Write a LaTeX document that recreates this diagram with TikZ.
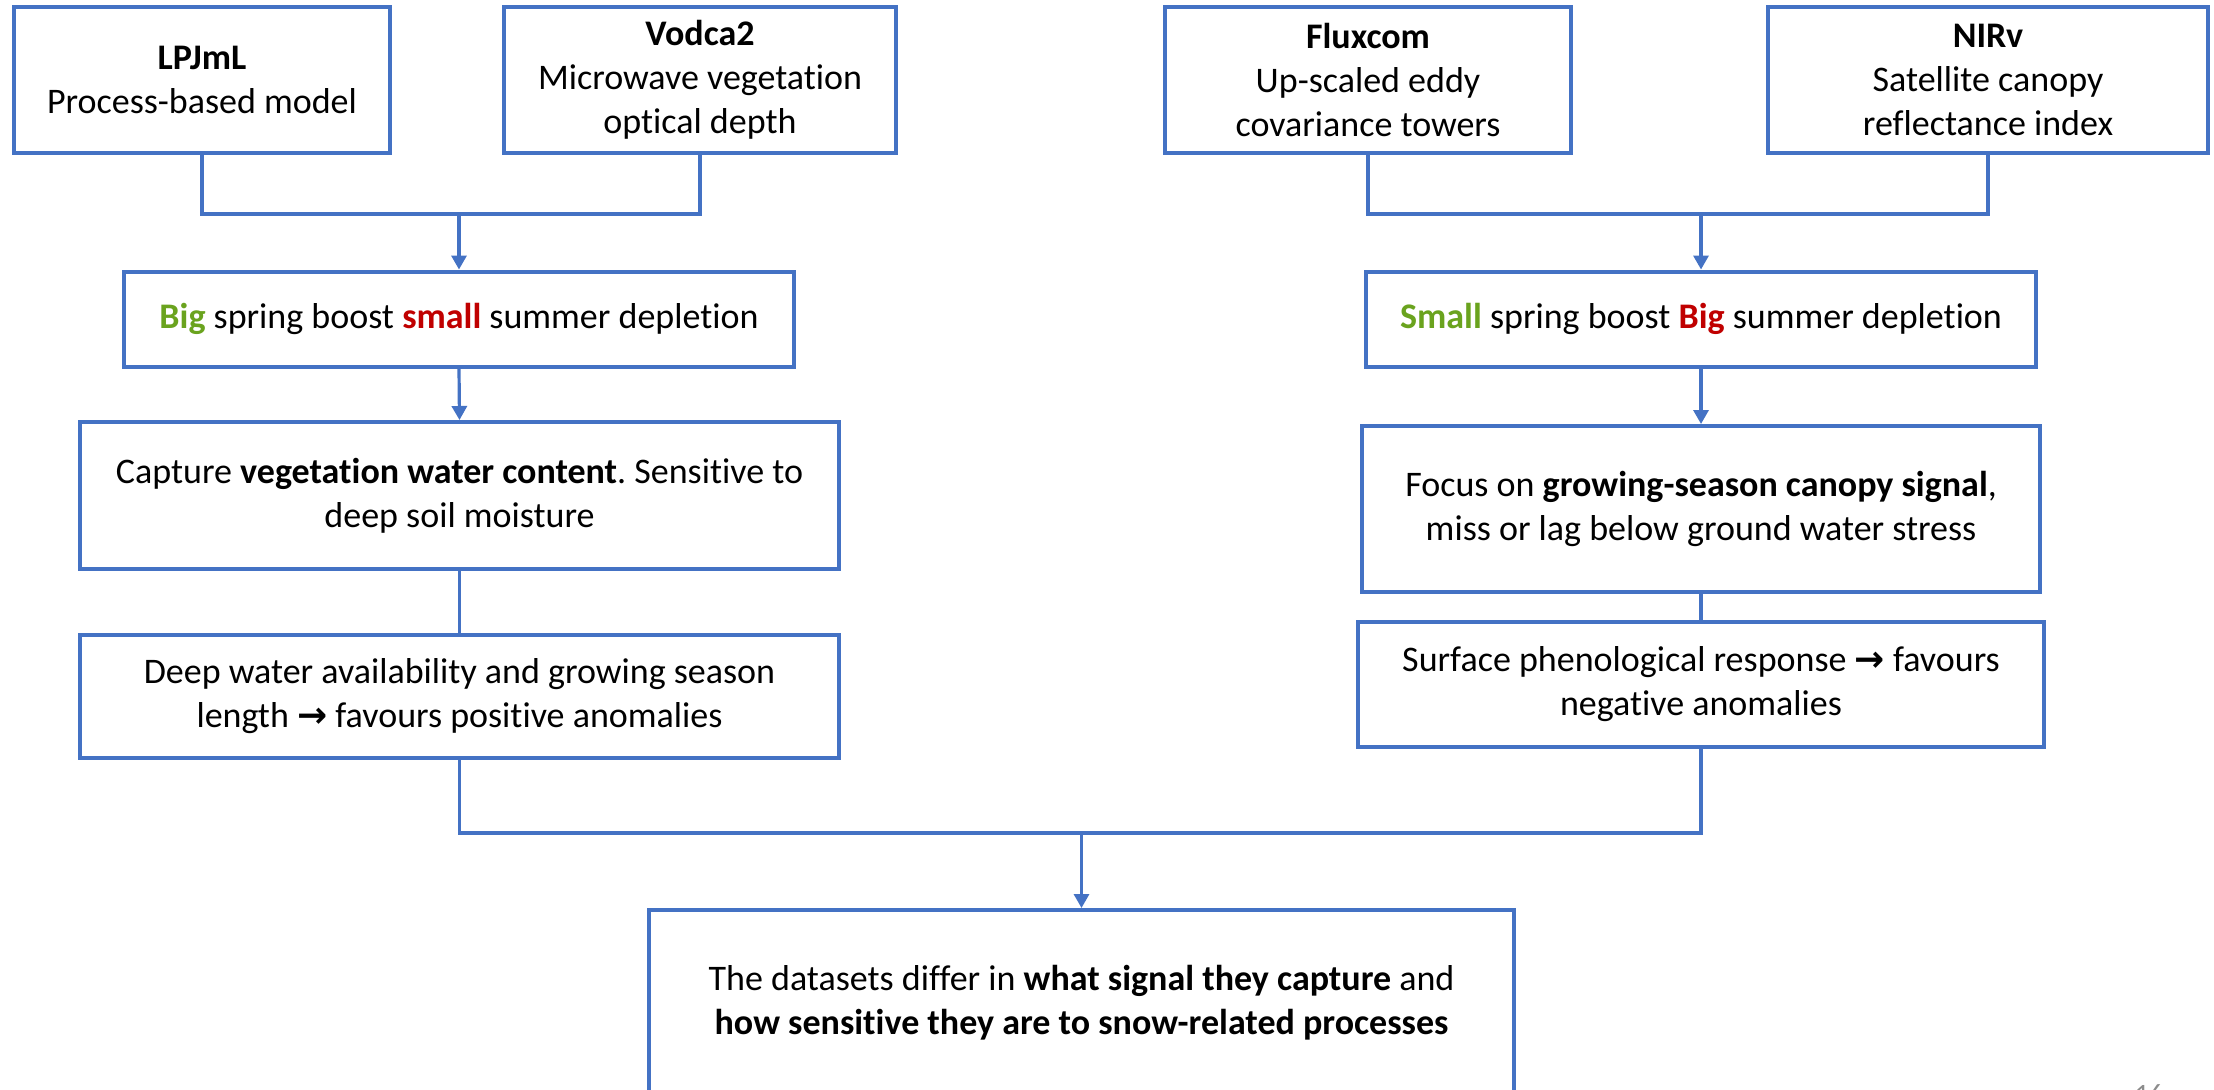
\documentclass[tikz,border=0pt]{standalone}
\usepackage{fontspec}
\setmainfont{Carlito}[Ligatures={NoCommon}]
\newfontfamily\dejavu{DejaVu Sans}
\usetikzlibrary{arrows.meta}
\definecolor{bl}{HTML}{4472C4}
\definecolor{grn}{HTML}{6AA31E}
\definecolor{rd}{HTML}{C00000}
\definecolor{pg}{HTML}{8C8C8C}
\newcommand{\rarr}{{\dejavu\bfseries\char"2192}}
\frenchspacing
\tikzset{
  box/.style={draw=bl, line width=2pt, fill=white, inner sep=0pt, align=center,
    font=\fontsize{18}{22}\selectfont, text=black},
  conn/.style={draw=bl, line width=1.6pt},
  arr/.style={conn, -{Triangle[length=7pt,width=7.5pt]}},
}
\begin{document}
\begin{tikzpicture}[x=0.5pt,y=-0.5pt]
\useasboundingbox (0,0) rectangle (2214,1089);
\clip (0,0) rectangle (2214,1089);
\fill[white] (0,0) rectangle (2214,1089);

% top row
\node[box, minimum width=188pt, minimum height=73pt] (lp) at (202,80) {\textbf{LPJmL}\\Process-based model};
\node[box, minimum width=196pt, minimum height=73pt] (vo) at (700,80) {\textbf{Vodca2}\\Microwave vegetation\\optical depth};
\node[box, minimum width=203pt, minimum height=73pt] (fx) at (1368,80) {\textbf{Fluxcom}\\Up-scaled eddy\\covariance towers};
\node[box, minimum width=220pt, minimum height=73pt] (ni) at (1988,80) {\textbf{NIRv}\\Satellite canopy\\reflectance index};

% second row
\node[box, minimum width=335pt, minimum height=47.5pt] (big) at (459,319) {\textcolor{grn}{\textbf{Big}} spring boost \textcolor{rd}{\textbf{small}} summer depletion};
\node[box, minimum width=335pt, minimum height=47.5pt] (sm) at (1701,319) {\textcolor{grn}{\textbf{Small}} spring boost \textcolor{rd}{\textbf{Big}} summer depletion};

% third row
\node[box, minimum width=379.5pt, minimum height=73.5pt] (cap) at (459.5,495.5) {Capture \textbf{vegetation water content}. Sensitive to\\deep soil moisture};
\node[box, minimum width=339pt, minimum height=83pt] (foc) at (1701,509) {Focus on \textbf{growing-season canopy signal},\\miss or lag below ground water stress};

% fourth row
\node[box, minimum width=379.5pt, minimum height=61.5pt] (deep) at (459.5,696.5) {Deep water availability and growing season\\length \rarr{} favours positive anomalies};
\node[box, minimum width=343pt, minimum height=62.5pt] (surf) at (1701,684.5) {Surface phenological response \rarr{} favours\\negative anomalies};

% final
\node[box, minimum width=432.5pt, minimum height=93pt] (fin) at (1081.5,1003) {The datasets differ in \textbf{what signal they capture} and\\\textbf{how sensitive they are to snow-related processes}};

% page number (cut off at the lower edge, as in the reference)
\node[anchor=north, inner sep=0pt, text=pg, font=\fontsize{14}{16}\selectfont] (pn) at (2149,1084) {16};

% connectors left
\coordinate (jl) at (459,212);
\draw[conn] (lp.south) -- ++(0,59) -| (vo.south);
\draw[arr] (jl) -- (big.north);
\draw[arr] (big.south) -- (cap.north);
\draw[conn] (cap.south) -- (deep.north);

% connectors right
\coordinate (jr) at (1701,212);
\draw[conn] (fx.south) -- ++(0,59) -| (ni.south);
\draw[arr] (jr) -- (sm.north);
\draw[arr] (sm.south) -- (foc.north);
\draw[conn] (foc.south) -- (surf.north);

% bottom join
\coordinate (jb) at (1081.5,831);
\draw[conn] (deep.south) -- ++(0,73) -| (surf.south);
\draw[arr] (jb) -- (fin.north);
\end{tikzpicture}
\end{document}
